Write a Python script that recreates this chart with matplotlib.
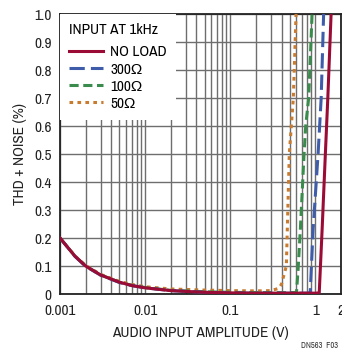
import matplotlib
matplotlib.use("Agg")
import matplotlib.pyplot as plt
from matplotlib.ticker import FixedLocator, NullFormatter
import matplotlib.font_manager as fm

names = sorted({f.name for f in fm.fontManager.ttflist})
if 'Liberation Sans Narrow' in names:
    fam = ['Liberation Sans Narrow', 'Liberation Sans', 'DejaVu Sans']
    fs = 11
else:
    narrow = [n for n in names if 'Narrow' in n or 'Condensed' in n]
    if narrow:
        fam = [narrow[0], 'Liberation Sans', 'DejaVu Sans']
        fs = 11
    else:
        fam = ['Liberation Sans', 'DejaVu Sans']
        fs = 9.4
plt.rcParams['font.family'] = fam

# Data
noise_x = [0.001, 0.0015, 0.002, 0.003, 0.005, 0.007, 0.01, 0.02, 0.05, 0.1, 0.2, 0.5]
noload_y_low = [0.20, 0.135, 0.10, 0.068, 0.042, 0.030, 0.022, 0.012, 0.006, 0.004, 0.003, 0.003]
noload_x = noise_x + [1.0, 1.11, 1.2, 1.31, 1.40, 1.53]
noload_y = noload_y_low + [0.003, 0.004, 0.23, 0.5, 0.7, 1.0]

r300_x = noise_x + [0.8, 0.87, 0.94, 1.076, 1.17, 1.25]
r300_y = [0.20, 0.134, 0.099, 0.067, 0.041, 0.030, 0.022, 0.012, 0.006, 0.004, 0.003, 0.003] + [0.003, 0.005, 0.23, 0.5, 0.7, 1.0]

r100_x = noise_x + [0.55, 0.60, 0.626, 0.666, 0.736, 0.77, 0.834, 0.915]
r100_y = [0.20, 0.135, 0.10, 0.068, 0.042, 0.031, 0.023, 0.013, 0.008, 0.006, 0.005, 0.005] + [0.005, 0.006, 0.086, 0.23, 0.5, 0.6, 0.7, 1.0]

r50_x = [0.001, 0.0015, 0.002, 0.003, 0.005, 0.007, 0.01, 0.02, 0.05, 0.1, 0.2, 0.3, 0.37, 0.40, 0.456, 0.494, 0.551, 0.593]
r50_y = [0.20, 0.136, 0.102, 0.07, 0.045, 0.034, 0.026, 0.018, 0.014, 0.012, 0.011, 0.012, 0.02, 0.035, 0.1, 0.5, 0.7, 1.0]

xticks = [0.001, 0.01, 0.1, 1, 2]
xticklabels = ['0.001', '0.01', '0.1', '1', '2']
yticks = [0, 0.1, 0.2, 0.3, 0.4, 0.5, 0.6, 0.7, 0.8, 0.9, 1.0]
yticklabels = ['0', '0.1', '0.2', '0.3', '0.4', '0.5', '0.6', '0.7', '0.8', '0.9', '1.0']

fig = plt.figure(figsize=(3.42, 3.49), dpi=100)
ax = fig.add_axes([60/342, 1-294/349, 281/342, 280/349])
ax.set_xscale('log')
ax.set_xlim(0.001, 2)
ax.set_ylim(0, 1.0)

minor = [m * 10**e for e in (-3, -2, -1, 0) for m in range(2, 10)]
minor = [v for v in minor if v < 2]
ax.xaxis.set_minor_locator(FixedLocator(minor))
ax.xaxis.set_minor_formatter(NullFormatter())
ax.set_xticks(xticks)
ax.set_xticklabels(xticklabels)
ax.set_yticks(yticks)
ax.set_yticklabels(yticklabels)
ax.grid(True, which='both', axis='x', color='#6e6e6e', lw=1.0)
ax.grid(True, which='major', axis='y', color='#6e6e6e', lw=1.0)
ax.tick_params(which='both', length=0, labelsize=fs, colors='#222222')
ax.tick_params(axis='y', pad=6)
ax.tick_params(axis='x', pad=7)

for s in ax.spines.values():
    s.set_linewidth(1.3)
    s.set_color('#222222')

ax.plot(r50_x, r50_y, color='#C97B30', lw=2.2, ls=(0, (1.2, 1.4)), label='50Ω', zorder=3)
ax.plot(r100_x, r100_y, color='#3A8C4C', lw=2.2, ls=(0, (3, 1.5)), label='100Ω', zorder=4)
ax.plot(r300_x, r300_y, color='#3E5CAA', lw=2.2, ls=(0, (5, 2)), label='300Ω', zorder=5)
ax.plot(noload_x, noload_y, color='#9A0B35', lw=2.2, label='NO LOAD', zorder=6)

h, l = ax.get_legend_handles_labels()
order = [3, 2, 1, 0]
leg = ax.legend([h[i] for i in order], [l[i] for i in order], title='INPUT AT 1kHz',
                loc='upper left', bbox_to_anchor=(0.0, 1.0), borderaxespad=0.0,
                frameon=True, fancybox=False, framealpha=1.0, edgecolor='none', facecolor='white',
                fontsize=fs, title_fontsize=fs, handlelength=2.2, handletextpad=0.5,
                labelspacing=0.2, borderpad=0.6)
leg._legend_box.align = 'left'
leg._legend_box.sep = 6
leg.set_zorder(10)

ax.set_xlabel('AUDIO INPUT AMPLITUDE (V)', fontsize=fs, labelpad=6, color='#222222')
ax.set_ylabel('THD + NOISE (%)', fontsize=fs, labelpad=5, color='#222222')

fig.text(338/342, 1-345/349, 'DN563  F03', fontsize=6, ha='right', va='center', color='#333333')

fig.savefig('out.png', dpi=100)
